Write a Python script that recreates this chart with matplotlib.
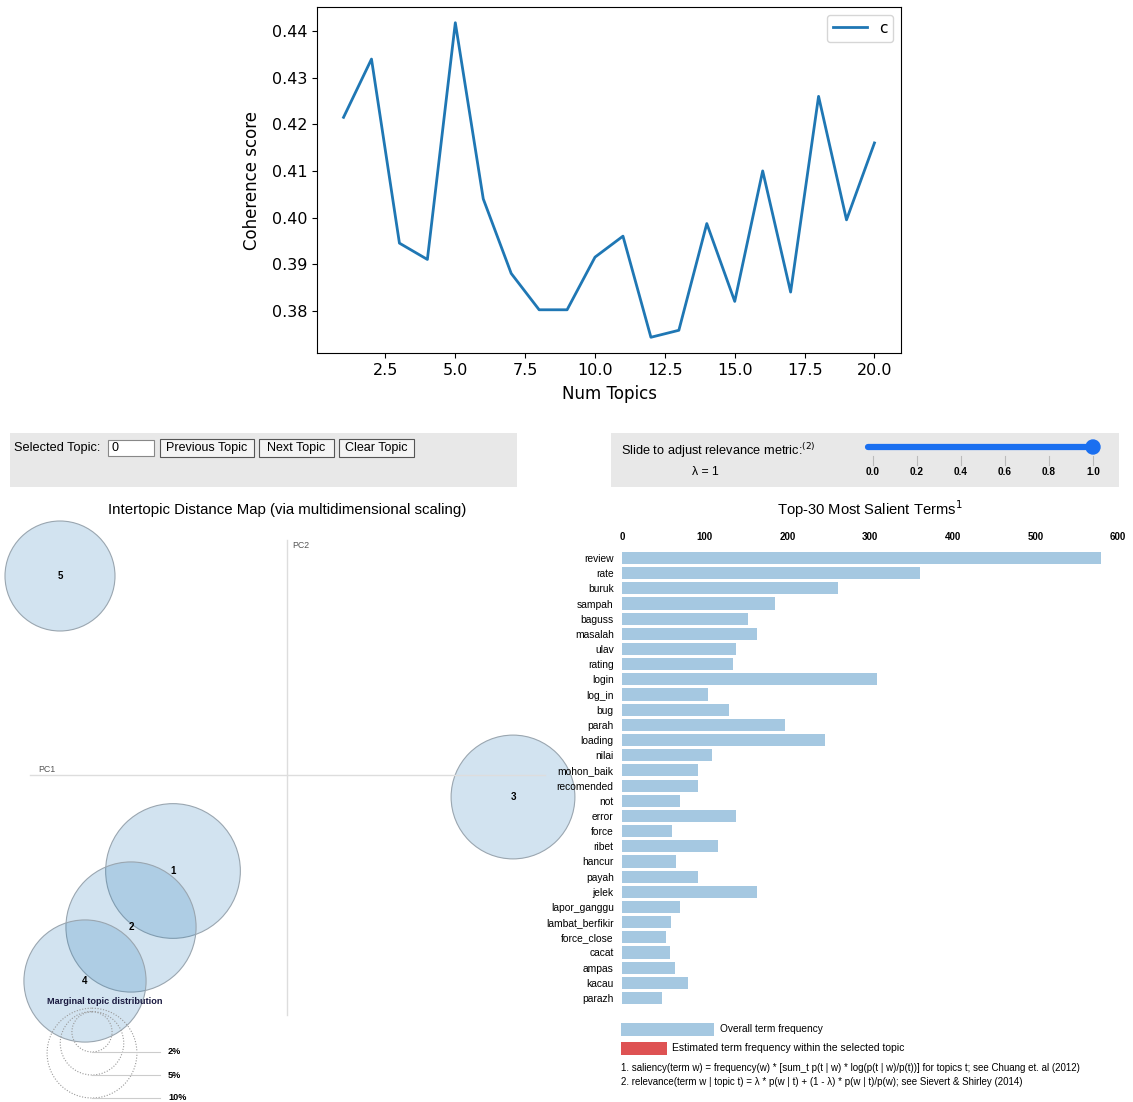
import matplotlib
matplotlib.use("Agg")
import matplotlib.pyplot as plt
from matplotlib.patches import Rectangle, Circle
import numpy as np

# ---------------- data ----------------
num_topics = list(range(1, 21))
coherence = [0.4215, 0.434, 0.3945, 0.391, 0.4418, 0.404, 0.388, 0.3802, 0.3802, 0.3915,
             0.396, 0.3743, 0.3758, 0.3987, 0.382, 0.410, 0.384, 0.426, 0.3995, 0.416]

terms = ["review", "rate", "buruk", "sampah", "baguss", "masalah", "ulav", "rating", "login",
         "log_in", "bug", "parah", "loading", "nilai", "mohon_baik", "recomended", "not",
         "error", "force", "ribet", "hancur", "payah", "jelek", "lapor_ganggu",
         "lambat_berfikir", "force_close", "cacat", "ampas", "kacau", "parazh"]
term_freq = [580, 360, 261, 185, 153, 163, 138, 134, 308, 104, 129, 197, 246, 109, 92, 92,
             70, 138, 61, 116, 65, 92, 163, 70, 59, 53, 58, 64, 80, 48]
bar_ticks = [0, 100, 200, 300, 400, 500, 600]

topic_ids = [1, 2, 3, 4, 5]
topic_pc1 = [-0.114, -0.156, 0.226, -0.202, -0.227]
topic_pc2 = [-0.096, -0.152, -0.022, -0.206, 0.199]
topic_pct = [22.5, 21.0, 19.0, 18.5, 15.0]
size_legend_pct = [2, 5, 10]

slider_ticks = [0.0, 0.2, 0.4, 0.6, 0.8, 1.0]
lambda_value = 1.0

# ---------------- figure ----------------
W, H = 1133, 1102
fig = plt.figure(figsize=(W / 100, H / 100), dpi=100)
fig.patch.set_facecolor("white")

def frac(l, t, r, b):
    return [l / W, 1 - b / H, (r - l) / W, (b - t) / H]

ARIAL = ["Liberation Sans", "DejaVu Sans"]
c1 = "#1f77b4"

# overlay axes in pixel coordinates
ov = fig.add_axes([0, 0, 1, 1])
ov.set_xlim(0, W)
ov.set_ylim(H, 0)
ov.axis("off")

# ---- top line chart ----
ax = fig.add_axes(frac(317, 7, 901, 353))
ax.plot(num_topics, coherence, color=c1, lw=2, label="c")
ax.set_xlabel("Num Topics", fontsize=12, labelpad=5)
ax.set_ylabel("Coherence score", fontsize=12, labelpad=8)
ax.tick_params(labelsize=11.5)
ax.legend(loc="upper right", fontsize=11, handlelength=2.2)

# ---- control boxes ----
ov.add_patch(Rectangle((10, 433), 507, 54, facecolor="#e8e8e8", edgecolor="none"))
ov.add_patch(Rectangle((611, 433), 508, 54, facecolor="#e8e8e8", edgecolor="none"))
ov.text(14, 448, "Selected Topic:", fontsize=9.2, family=ARIAL, va="center", ha="left")
ov.add_patch(Rectangle((108, 440), 46, 16, facecolor="white", edgecolor="#888888", lw=0.8))
ov.text(111, 448, "0", fontsize=9, family=ARIAL, va="center", ha="left")
for (l, r, lab) in [(160, 254, "Previous Topic"), (259, 334, "Next Topic"), (339, 414, "Clear Topic")]:
    ov.add_patch(Rectangle((l, 439), r - l, 18, facecolor="#f4f4f4", edgecolor="#555555", lw=0.8))
    ov.text((l + r) / 2, 448, lab, fontsize=9.0, family=ARIAL, va="center", ha="center")

ov.text(621, 451, "Slide to adjust relevance metric:$^{(2)}$", fontsize=9.2, family=ARIAL,
        va="center", ha="left")
ov.text(705, 472, "\u03bb = %g" % lambda_value, fontsize=8.8, family=ARIAL, va="center", ha="center")
sx0, sx1 = 873, 1093
ov.plot([868, 1093], [447, 447], color="#1a6ff0", lw=4.5, solid_capstyle="round")
ov.add_patch(Circle((sx0 + (sx1 - sx0) * lambda_value, 447), 7, color="#1a6ff0", zorder=5))
for v in slider_ticks:
    xx = sx0 + (sx1 - sx0) * v
    ov.plot([xx, xx], [456, 465], color="#bbbbbb", lw=0.8)
    ov.text(xx, 472, "%.1f" % v, fontsize=7.2, family=ARIAL, weight="bold", va="center", ha="center")

# ---- titles ----
ov.text(287, 510, "Intertopic Distance Map (via multidimensional scaling)", fontsize=10.8,
        family=ARIAL, ha="center", va="center")
ov.text(870, 509, "Top-30 Most Salient Terms$^{1}$", fontsize=10.6, family=ARIAL,
        ha="center", va="center")

# ---- intertopic map ----
ox, oy, S = 287, 775, 1000.0
k = 14.2
ov.plot([ox, ox], [540, 1015], color="#dddddd", lw=1)
ov.plot([30, 545], [oy, oy], color="#dddddd", lw=1)
ov.text(292, 545, "PC2", fontsize=6.3, family=ARIAL, color="#555555", va="center")
ov.text(38, 770, "PC1", fontsize=6.3, family=ARIAL, color="#555555", va="center")
clip = Rectangle((8, 500), 560, 602, transform=ov.transData)
for tid, p1, p2, pct in zip(topic_ids, topic_pc1, topic_pc2, topic_pct):
    cx, cy = ox + p1 * S, oy - p2 * S
    circ = Circle((cx, cy), k * np.sqrt(pct), facecolor=c1, alpha=0.2, edgecolor="none")
    circ.set_clip_path(clip)
    ov.add_patch(circ)
    edge = Circle((cx, cy), k * np.sqrt(pct), facecolor="none", edgecolor="#9aa6b0", lw=0.8)
    edge.set_clip_path(clip)
    ov.add_patch(edge)
for tid, p1, p2 in zip(topic_ids, topic_pc1, topic_pc2):
    ov.text(ox + p1 * S, oy - p2 * S, str(tid), fontsize=7, weight="bold", family=ARIAL,
            ha="center", va="center")

# size legend
lcx = 92
ov.text(105, 1001, "Marginal topic distribution", fontsize=6.6, family=ARIAL, color="#1a1a40",
        weight="bold", ha="center", va="center")
for i, p in enumerate(size_legend_pct):
    r = k * np.sqrt(p)
    bottom = [1052, 1075, 1098][i]
    ov.add_patch(Circle((lcx, bottom - r), r, facecolor="none", edgecolor="#999999",
                        lw=0.8, ls=(0, (1, 1.5))))
    ov.plot([lcx, 160], [bottom, bottom], color="#cccccc", lw=0.8)
    ov.text(168, bottom, "%d%%" % p, fontsize=6.6, family=ARIAL, weight="bold", va="center")

# ---- bar chart ----
row0, rowN = 558, 998
step = (rowN - row0) / (len(terms) - 1)
bx = fig.add_axes(frac(622, row0 - 0.6 * step, 1118, rowN + 0.6 * step))
ypos = np.arange(len(terms))
bx.barh(ypos, term_freq, height=0.8, color=c1, alpha=0.4, edgecolor="none")
bx.set_xlim(0, 600)
bx.set_ylim(len(terms) - 1 + 0.6, -0.6)
bx.set_yticks(ypos)
bx.set_yticklabels(terms, fontsize=7.4, family=ARIAL)
bx.xaxis.tick_top()
bx.set_xticks(bar_ticks)
bx.set_xticklabels([str(t) for t in bar_ticks], fontsize=7, family=ARIAL, weight="bold")
bx.tick_params(axis="y", length=0, pad=6)
bx.tick_params(axis="x", length=0, pad=5)
for s in bx.spines.values():
    s.set_visible(False)
bx.set_facecolor("none")

# legend for bars
ov.add_patch(Rectangle((621, 1023), 93, 13, facecolor=c1, alpha=0.4, edgecolor="none"))
ov.text(720, 1029, "Overall term frequency", fontsize=7.3, family=ARIAL, va="center")
ov.add_patch(Rectangle((621, 1042), 46, 13, facecolor="#d62728", alpha=0.8, edgecolor="none"))
ov.text(672, 1048, "Estimated term frequency within the selected topic", fontsize=7.5,
        family=ARIAL, va="center")
ov.text(621, 1068, "1. saliency(term w) = frequency(w) * [sum_t p(t | w) * log(p(t | w)/p(t))] "
        "for topics t; see Chuang et. al (2012)", fontsize=7.05, family=ARIAL, va="center")
ov.text(621, 1082, "2. relevance(term w | topic t) = \u03bb * p(w | t) + (1 - \u03bb) * p(w | t)/p(w); "
        "see Sievert & Shirley (2014)", fontsize=7.05, family=ARIAL, va="center")

fig.savefig("out.png", dpi=100)
